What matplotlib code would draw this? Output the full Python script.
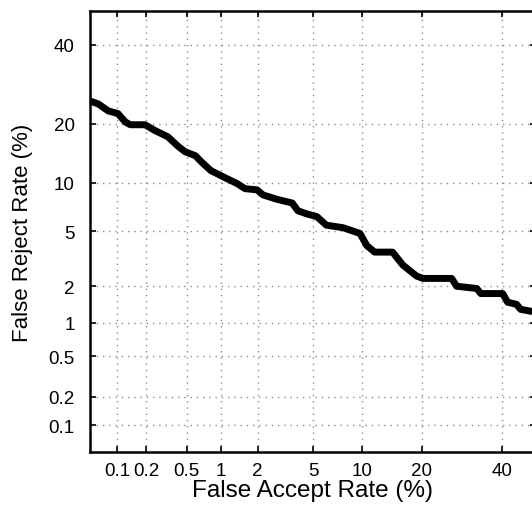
from statistics import NormalDist

import numpy as np
import matplotlib
matplotlib.use("Agg")
import matplotlib.pyplot as plt
from matplotlib.ticker import FixedLocator, FixedFormatter, NullLocator

# DET curve (percent)
far = [0.050, 0.062, 0.080, 0.102, 0.122, 0.138, 0.196, 0.248, 0.33, 0.41,
       0.48, 0.60, 0.67, 0.82, 1.05, 1.37, 1.59, 1.98, 2.2, 2.8,
       3.6, 3.95, 4.55, 5.3, 6.1, 7.7, 9.7, 10.6, 11.7, 14.5,
       16.3, 18.9, 20.2, 26.7, 27.9, 33.1, 34.2, 40.3, 41.7, 44.3,
       45.5, 48.7, 50.0]
frr = [25.1, 24.4, 22.8, 22.2, 20.4, 19.8, 19.8, 18.6, 17.4, 15.7,
       14.7, 14.0, 13.1, 11.7, 10.8, 9.9, 9.25, 9.1, 8.5, 8.0,
       7.6, 6.8, 6.5, 6.25, 5.5, 5.3, 4.85, 4.0, 3.6, 3.6,
       2.9, 2.4, 2.3, 2.3, 2.0, 1.92, 1.75, 1.75, 1.49, 1.43,
       1.30, 1.25, 1.18]

ticks = [0.1, 0.2, 0.5, 1, 2, 5, 10, 20, 40]
tick_labels = ["0.1", "0.2", "0.5", "1", "2", "5", "10", "20", "40"]
lim = (0.05, 50)

_nd = NormalDist()
_ppf = np.vectorize(_nd.inv_cdf, otypes=[float])
_cdf = np.vectorize(_nd.cdf, otypes=[float])


def fwd(p):
    p = np.clip(np.asarray(p, dtype=float) / 100.0, 1e-9, 1 - 1e-9)
    return _ppf(p)


def inv(z):
    return _cdf(np.asarray(z, dtype=float)) * 100.0


def main():
    plt.rcParams["font.family"] = ["Liberation Sans", "DejaVu Sans"]

    fig = plt.figure(figsize=(5.32, 5.06), dpi=100)
    ax = fig.add_axes([90 / 532, 53 / 506, 446 / 532, 441 / 506])

    ax.set_xscale("function", functions=(fwd, inv))
    ax.set_yscale("function", functions=(fwd, inv))
    ax.set_xlim(*lim)
    ax.set_ylim(*lim)

    for axis in (ax.xaxis, ax.yaxis):
        axis.set_major_locator(FixedLocator(ticks))
        axis.set_major_formatter(FixedFormatter(tick_labels))
        axis.set_minor_locator(NullLocator())

    ax.grid(True, color="#8c8c8c", linestyle=(0, (1, 3.5)), linewidth=1.0)
    ax.set_axisbelow(True)

    ax.plot(far, frr, color="black", linewidth=5, solid_joinstyle="round",
            solid_capstyle="butt")

    for s in ax.spines.values():
        s.set_linewidth(1.8)
    ax.tick_params(which="major", direction="in", top=True, right=True,
                   length=4, width=1.2, labelsize=13.5)
    ax.tick_params(axis="x", pad=7)
    ax.tick_params(axis="y", pad=11)

    ax.set_xlabel("False Accept Rate (%)", fontsize=17.5, labelpad=0)
    ax.set_ylabel("False Reject Rate (%)", fontsize=16, labelpad=11)

    fig.savefig("out.png", dpi=100)
    plt.close(fig)


if __name__ == "__main__":
    main()
